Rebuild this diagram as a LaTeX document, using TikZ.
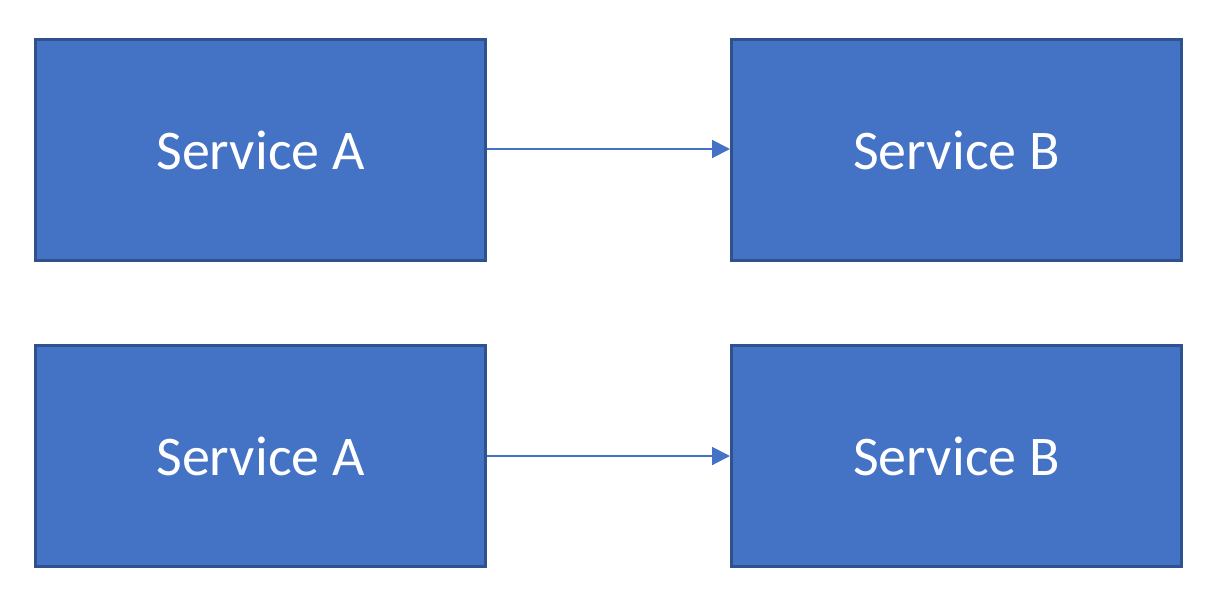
\documentclass[tikz,border=0pt]{standalone}
\usepackage{fontspec}
\setmainfont{Carlito}
\usetikzlibrary{arrows.meta}
\definecolor{boxfill}{HTML}{4472C4}
\definecolor{boxline}{HTML}{2F528F}
\begin{document}
\begin{tikzpicture}[x=1pt,y=-1pt,
  service/.style={draw=boxline, line width=3pt, fill=boxfill, text=white,
    minimum width=450pt, minimum height=221pt, inner sep=0pt,
    font=\fontsize{56}{67}\selectfont},
  link/.style={draw=boxfill, line width=2pt,
    -{Triangle[length=18pt,width=18pt]}}]
  \useasboundingbox (0,0) rectangle (1221,613);
  % upper pair
  \node[service] (a1) at (260.5,150) {Service A};
  \node[service] (b1) at (956.5,150) {Service B};
  % lower pair
  \node[service] (a2) at (260.5,456) {Service A};
  \node[service] (b2) at (956.5,456) {Service B};
  \draw[link] ([yshift=1pt]a1.east) -- ([yshift=1pt]b1.west);
  \draw[link] (a2.east) -- (b2.west);
\end{tikzpicture}
\end{document}
